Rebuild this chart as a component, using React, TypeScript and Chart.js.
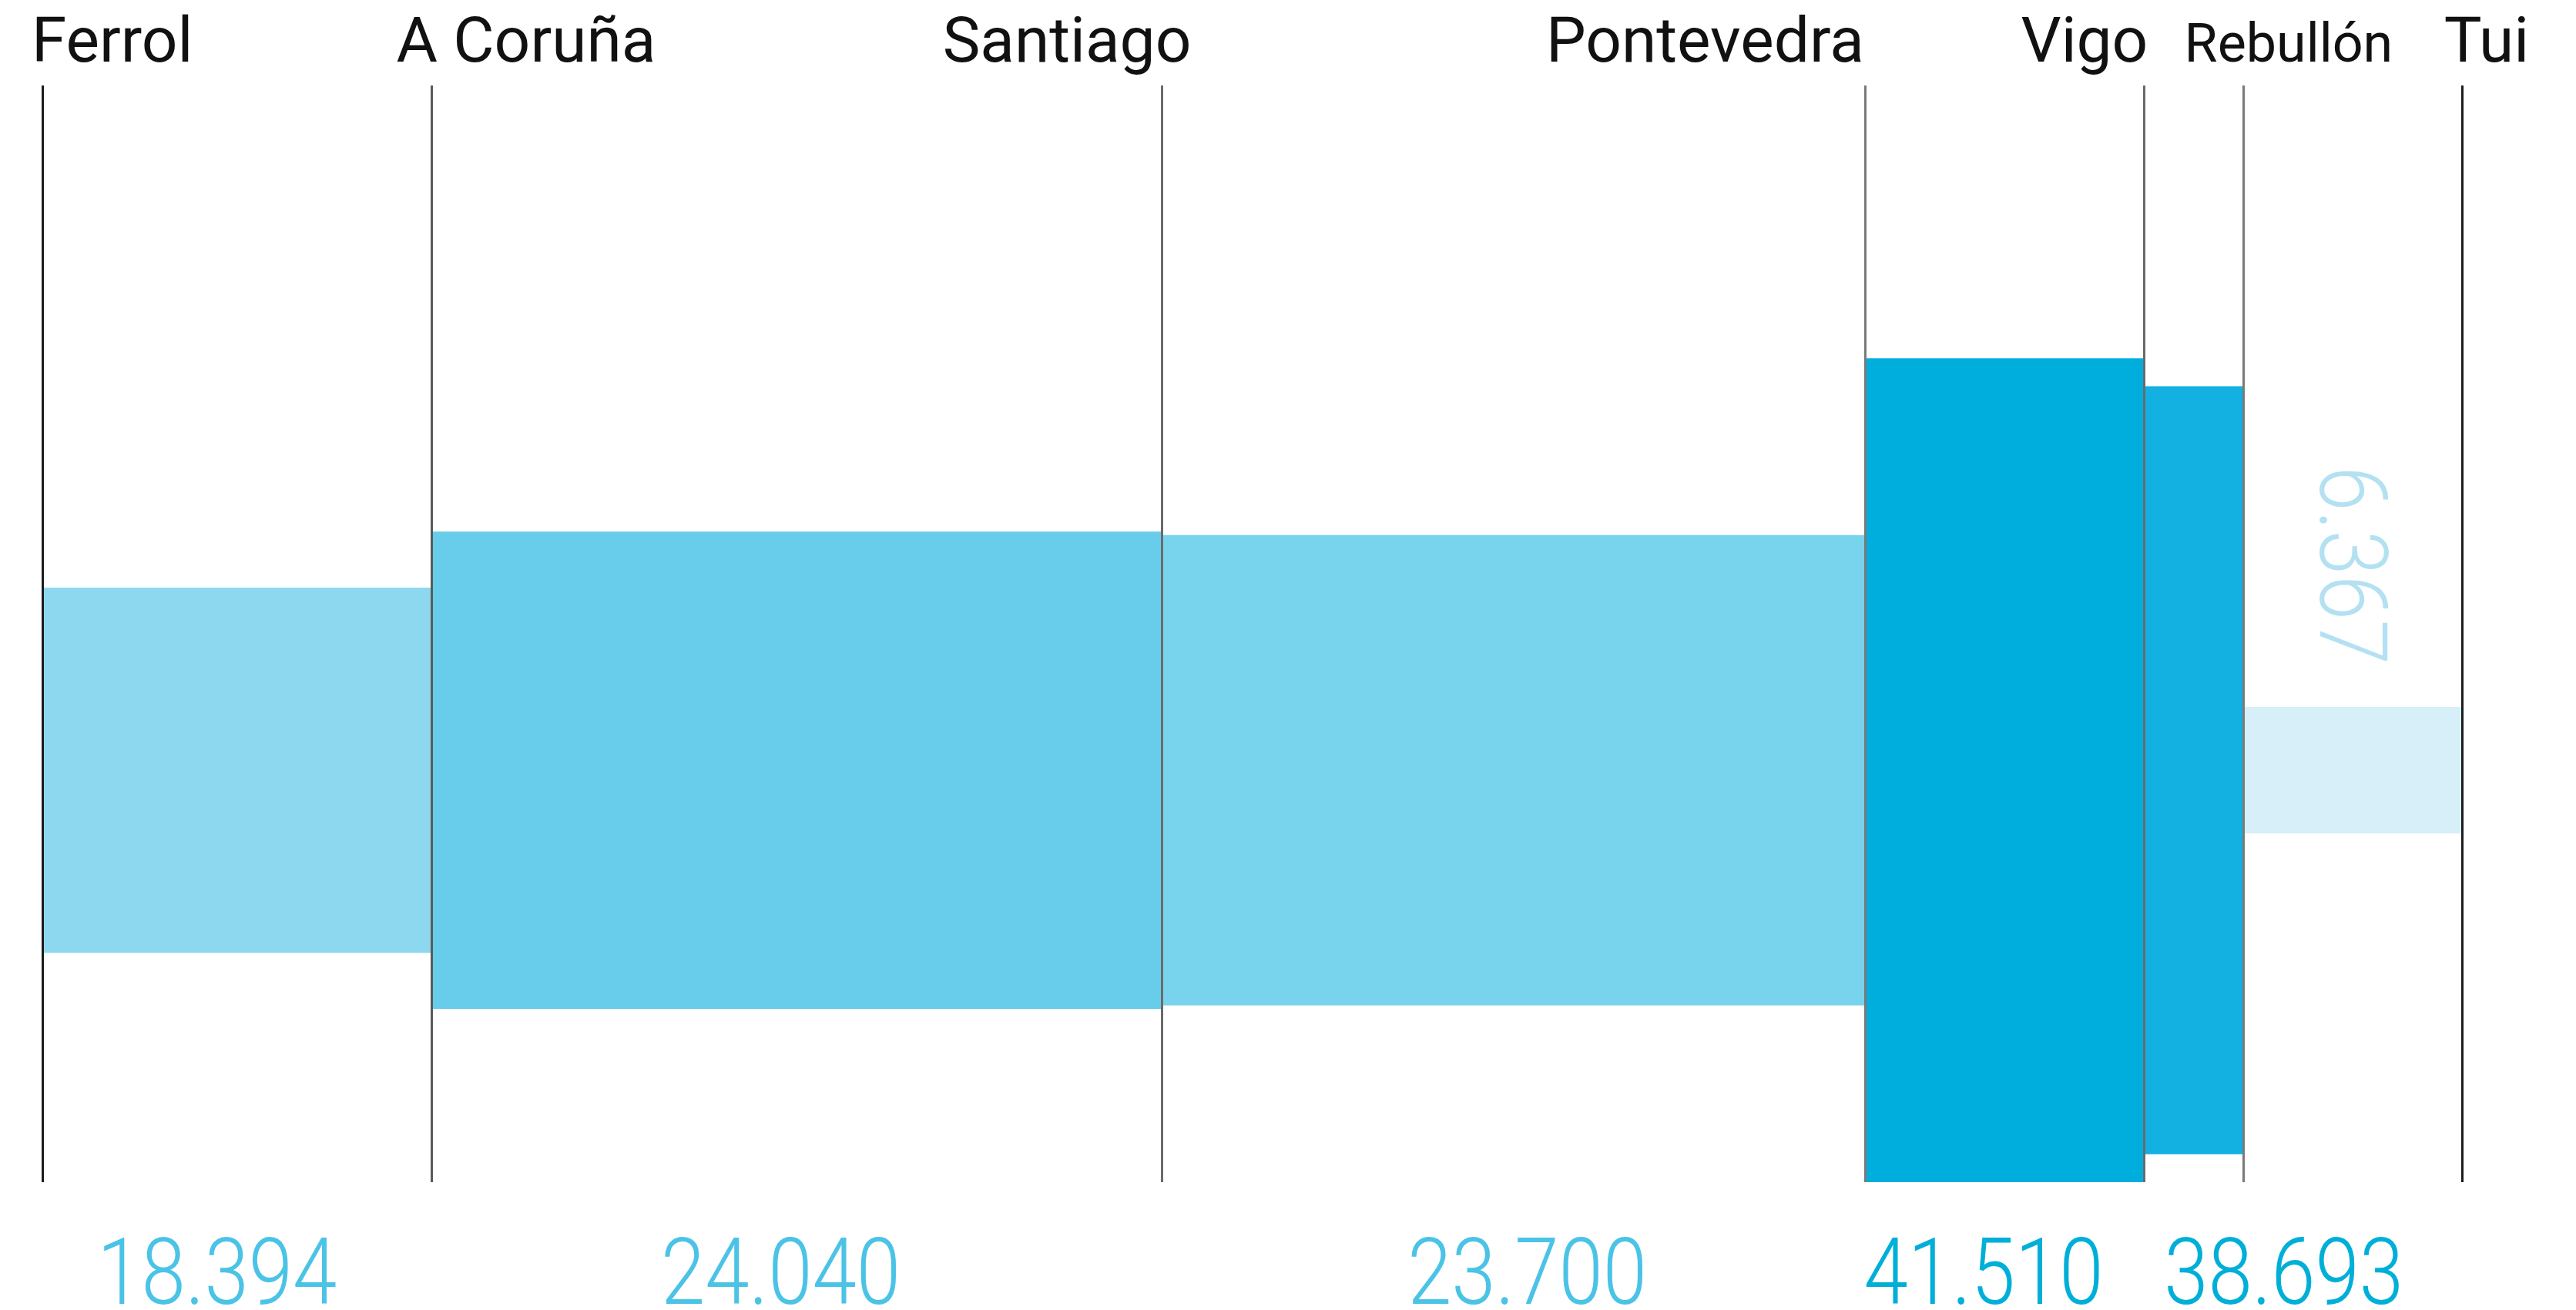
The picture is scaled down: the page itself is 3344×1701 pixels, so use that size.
import React, { useEffect, useRef } from "react";
import { Chart, registerables } from "chart.js";

Chart.register(...registerables);

// ---- data ----
const cities = ["Ferrol", "A Coruña", "Santiago", "Pontevedra", "Vigo", "Rebullón", "Tui"];
const cityKm = [0, 35.4, 101.8, 165.7, 191.1, 200.1, 220];
const traffic = [18394, 24040, 23700, 41510, 38693, 6367];
const trafficLabels = ["18.394", "24.040", "23.700", "41.510", "38.693", "6.367"];

// ---- styles ----
const barColors = ["#8ed8ef", "#68cdea", "#78d3ed", "#00aede", "#12b1e1", "#d6eff8"];
const numberColors = ["#4bc3e6", "#4bc3e6", "#4bc3e6", "#00afd8", "#00afd8", "#b3e1f2"];
const lineColors = ["#1c1c1c", "#5a5a5a", "#6a6a6a", "#7a7a7a", "#6a6a6a", "#7a7a7a", "#1c1c1c"];
const cityAlign: CanvasTextAlign[] = ["left", "left", "right", "right", "right", "center", "center"];
const cityDx = [-14, -46, 38, -1, 5, 59, 32];
const citySize = [82, 82, 82, 82, 82, 70, 82];
const numberDx = [-26, -21, 18, -27, 117, -11];

const W = 3344;
const H = 1701;

const labelsPlugin = {
  id: "routeLabels",
  afterDatasetsDraw(chart: any) {
    const { ctx, chartArea, scales } = chart;
    const xs = scales.x;
    const ys = scales.y;
    // vertical city lines
    ctx.save();
    cityKm.forEach((km, i) => {
      const x = Math.round(xs.getPixelForValue(km)) + 0.5;
      ctx.beginPath();
      ctx.strokeStyle = lineColors[i];
      ctx.lineWidth = 3;
      ctx.moveTo(x, chartArea.top);
      ctx.lineTo(x, chartArea.bottom);
      ctx.stroke();
    });
    ctx.restore();
  },
  afterDraw(chart: any) {
    const { ctx, scales } = chart;
    const xs = scales.x;
    const ys = scales.y;
    ctx.save();
    // city names
    cities.forEach((name, i) => {
      const x = xs.getPixelForValue(cityKm[i]) + cityDx[i];
      ctx.font = `400 ${citySize[i]}px Roboto`;
      ctx.fillStyle = "#111111";
      ctx.textAlign = cityAlign[i];
      ctx.textBaseline = "alphabetic";
      ctx.fillText(name, x, 80);
    });
    // traffic numbers
    trafficLabels.forEach((t, i) => {
      const cx = (xs.getPixelForValue(cityKm[i]) + xs.getPixelForValue(cityKm[i + 1])) / 2 + numberDx[i];
      ctx.save();
      ctx.fillStyle = numberColors[i];
      ctx.font = "300 120px Roboto";
      ctx.textAlign = "center";
      if (i === traffic.length - 1) {
        const cy = ys.getPixelForValue(0) - 266;
        ctx.translate(cx, cy);
        ctx.rotate(Math.PI / 2);
        ctx.scale(0.86, 1);
        ctx.textBaseline = "middle";
        ctx.font = "300 122px Roboto";
        ctx.fillText(t, 0, 0);
      } else {
        ctx.translate(cx, 1693);
        ctx.scale(0.86, 1);
        ctx.textBaseline = "alphabetic";
        ctx.fillText(t, 0, 0);
      }
      ctx.restore();
    });
    ctx.restore();
  },
};

export default function App() {
  const ref = useRef<HTMLCanvasElement | null>(null);

  useEffect(() => {
    if (!ref.current) return;
    const datasets: any[] = [];
    traffic.forEach((v, i) => {
      datasets.push({
        data: [
          { x: cityKm[i], y: v / 2 },
          { x: cityKm[i + 1], y: v / 2 },
        ],
        borderColor: "transparent",
        borderWidth: 0,
        pointRadius: 0,
        fill: false,
      });
      datasets.push({
        data: [
          { x: cityKm[i], y: -v / 2 },
          { x: cityKm[i + 1], y: -v / 2 },
        ],
        borderColor: "transparent",
        borderWidth: 0,
        pointRadius: 0,
        fill: "-1",
        backgroundColor: barColors[i],
      });
    });

    const chart = new Chart(ref.current, {
      type: "line",
      data: { datasets },
      options: {
        animation: false,
        responsive: false,
        devicePixelRatio: 1,
        layout: { padding: { left: 55, right: 148, top: 111, bottom: 166 } },
        elements: { line: { tension: 0 } },
        scales: {
          x: { type: "linear", display: false, min: cityKm[0], max: cityKm[cityKm.length - 1] },
          y: { type: "linear", display: false, min: -41510 / 2, max: 34500 },
        },
        plugins: {
          legend: { display: false },
          tooltip: { enabled: false },
        },
      },
      plugins: [labelsPlugin],
    } as any);
    return () => chart.destroy();
  }, []);

  return (
    <div style={{ position: "absolute", left: 0, top: 0, width: W, height: H, background: "#ffffff" }}>
      <canvas ref={ref} width={W} height={H} style={{ width: W, height: H, display: "block" }} />
    </div>
  );
}
